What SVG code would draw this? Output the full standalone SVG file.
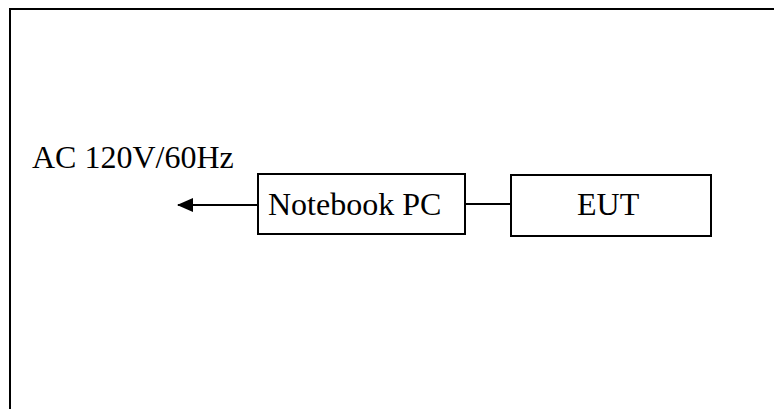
<svg xmlns="http://www.w3.org/2000/svg" width="774" height="409" viewBox="0 0 774 409">
<style>
.t{font-family:"Liberation Serif","Times New Roman",serif;font-size:32px;fill:#000}
.b{fill:#fff;stroke:#000;stroke-width:2}
.l{stroke:#000;stroke-width:2;fill:none}
</style>
<defs>
<marker id="ah" markerWidth="16" markerHeight="14" refX="15" refY="7" orient="auto" markerUnits="userSpaceOnUse">
<path d="M0,0 L16,7 L0,14 Z" fill="#000"/>
</marker>
</defs>
<rect width="774" height="409" fill="#fff"/>
<g id="frame">
<path d="M10,409 V9 H774" class="l" stroke-width="2.5"/>
</g>
<g id="connectors">
<line x1="258" y1="205" x2="178" y2="205" class="l" marker-end="url(#ah)"/>
<line x1="465" y1="204" x2="511" y2="204" class="l"/>
</g>
<g id="power">
<text x="32" y="168" class="t">AC 120V/60Hz</text>
</g>
<g id="notebook">
<rect x="258" y="174" width="207" height="60" class="b"/>
<text x="268" y="215" class="t">Notebook PC</text>
</g>
<g id="eut">
<rect x="511" y="175" width="200" height="61" class="b"/>
<text x="577" y="215" class="t">EUT</text>
</g>
</svg>
